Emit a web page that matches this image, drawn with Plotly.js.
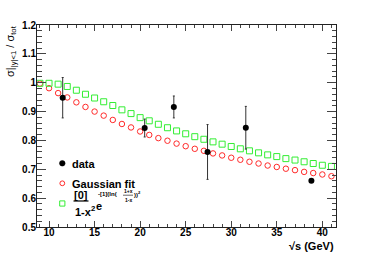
<!DOCTYPE html>
<html>
<head>
<meta charset="utf-8">
<script src="https://cdn.plot.ly/plotly-3.0.1.min.js"></script>
<style>html,body{margin:0;padding:0;background:#fff;}#chart{width:374px;height:253px;}</style>
</head>
<body>
<div id="chart"></div>
<script>
// ---- data ----
const dataX = [11.5, 20.5, 23.7, 27.4, 31.6, 38.8];
const dataY = [0.948, 0.843, 0.916, 0.760, 0.844, 0.660];
const dataErr = [0.070, 0.031, 0.038, 0.095, 0.074, 0.004];

const fitX = [9,10,11,12,13,14,15,16,17,18,19,20,21,22,23,24,25,26,27,28,29,30,31,32,33,34,35,36,37,38,39,40,41];
const gausY = [0.997,0.981,0.964,0.949,0.932,0.916,0.900,0.886,0.871,0.857,0.845,0.831,0.819,0.808,0.799,0.789,0.780,0.771,0.764,0.755,0.748,0.740,0.733,0.726,0.720,0.713,0.708,0.702,0.697,0.691,0.687,0.682,0.676];
const formY = [0.998,0.998,0.995,0.987,0.974,0.960,0.947,0.934,0.921,0.906,0.893,0.879,0.868,0.856,0.844,0.833,0.823,0.813,0.804,0.795,0.787,0.779,0.771,0.764,0.757,0.750,0.744,0.737,0.732,0.726,0.720,0.714,0.710];

const legendNames = ["data", "Gaussian fit"];
const xTitle = "\u221As (GeV)";
const yTitle = "\u03c3|<sub>|y|&lt;1</sub> / \u03c3<sub>tot</sub>";

// ---- geometry helpers (plot area: left 37, right 336, top 25, bottom 227) ----
const L = 37, R = 336, T = 25, B = 227;
const px = x => (x - L) / (R - L);
const py = y => (B - y) / (B - T);

const FONT = "Liberation Sans, Arial, sans-serif";

const traces = [
  {x: fitX, y: gausY, type: "scatter", mode: "markers", name: "Gaussian fit",
   marker: {symbol: "circle-open", size: 5.5, color: "#ff2a2a", line: {width: 1}}, showlegend: false},
  {x: fitX, y: formY, type: "scatter", mode: "markers", name: "formula",
   marker: {symbol: "square-open", size: 6, color: "#33ee33", line: {width: 1}}, showlegend: false},
  {x: dataX, y: dataY, type: "scatter", mode: "markers", name: "data",
   error_y: {type: "data", array: dataErr, visible: true, color: "#333", thickness: 1, width: 1},
   marker: {symbol: "circle", size: 6, color: "#000"}, showlegend: false}
];

const axisCommon = {
  showgrid: false, zeroline: false, showline: true, linecolor: "#222", linewidth: 1,
  mirror: "allticks", ticks: "inside", tickcolor: "#444", tickwidth: 1,
  tickfont: {family: FONT, size: 10, color: "#000", weight: "bold"}
};

const layout = {
  width: 374, height: 253,
  margin: {l: L, r: 374 - R, t: T, b: 253 - B, pad: 0},
  paper_bgcolor: "#fff", plot_bgcolor: "#fff",
  showlegend: false,
  xaxis: Object.assign({}, axisCommon, {
    range: [8.68, 41.5], dtick: 5, tick0: 0, ticklen: 6, ticklabelstandoff: -4,
    minor: {dtick: 1, ticks: "inside", ticklen: 3, tickcolor: "#444"}
  }),
  yaxis: Object.assign({}, axisCommon, {
    range: [0.5, 1.2], dtick: 0.1, tick0: 0, ticklen: 9, ticklabelstandoff: -2,
    minor: {dtick: 0.02, ticks: "inside", ticklen: 4.5, tickcolor: "#444"}
  }),
  annotations: [
    {xref: "paper", yref: "paper", x: px(3), y: py(24), xanchor: "left", yanchor: "top", borderpad: 0,
     text: yTitle, textangle: -90, showarrow: false, font: {family: FONT, size: 11, color: "#000"}},
    {xref: "paper", yref: "paper", x: px(336), y: py(246), xanchor: "right", yanchor: "middle",
     text: xTitle, showarrow: false, font: {family: FONT, size: 11, color: "#000", weight: "bold"}},
    {xref: "paper", yref: "paper", x: px(69.5), y: py(163.5), xanchor: "left", yanchor: "middle",
     text: legendNames[0], showarrow: false, font: {family: FONT, size: 11, color: "#000", weight: "bold"}},
    {xref: "paper", yref: "paper", x: px(69.5), y: py(183.5), xanchor: "left", yanchor: "middle",
     text: legendNames[1], showarrow: false, font: {family: FONT, size: 11, color: "#000", weight: "bold"}},
    {xref: "paper", yref: "paper", x: px(80.8), y: py(195), xanchor: "center", yanchor: "middle",
     text: "[0]", showarrow: false, font: {family: FONT, size: 11, color: "#000", weight: "bold"}},
    {xref: "paper", yref: "paper", x: px(73), y: py(211), xanchor: "left", yanchor: "middle",
     text: "1-x<sup>2</sup>", showarrow: false, font: {family: FONT, size: 11, color: "#000", weight: "bold"}},
    {xref: "paper", yref: "paper", x: px(93.5), y: py(206), xanchor: "left", yanchor: "middle",
     text: "e", showarrow: false, font: {family: FONT, size: 11, color: "#000", weight: "bold"}},
    {xref: "paper", yref: "paper", x: px(96.5), y: py(194), xanchor: "left", yanchor: "middle", borderpad: 0,
     text: "-[1](ln(", showarrow: false, font: {family: FONT, size: 6, color: "#000", weight: "bold"}},
    {xref: "paper", yref: "paper", x: px(128), y: py(190.5), xanchor: "center", yanchor: "middle", borderpad: 0,
     text: "1+x", showarrow: false, font: {family: FONT, size: 5, color: "#000", weight: "bold"}},
    {xref: "paper", yref: "paper", x: px(128), y: py(199.5), xanchor: "center", yanchor: "middle", borderpad: 0,
     text: "1-x", showarrow: false, font: {family: FONT, size: 5, color: "#000", weight: "bold"}},
    {xref: "paper", yref: "paper", x: px(133), y: py(194), xanchor: "left", yanchor: "middle", borderpad: 0,
     text: "))<sup>2</sup>", showarrow: false, font: {family: FONT, size: 6, color: "#000", weight: "bold"}}
  ],
  shapes: [
    // legend icons
    {type: "circle", xref: "paper", yref: "paper", xsizemode: "pixel", ysizemode: "pixel",
     xanchor: px(62.3), yanchor: py(163.3), x0: -2.8, x1: 2.8, y0: -2.8, y1: 2.8,
     fillcolor: "#000", line: {color: "#000", width: 0.5}},
    {type: "circle", xref: "paper", yref: "paper", xsizemode: "pixel", ysizemode: "pixel",
     xanchor: px(62.3), yanchor: py(183.3), x0: -2.4, x1: 2.4, y0: -2.4, y1: 2.4,
     line: {color: "#ff2a2a", width: 1}},
    {type: "rect", xref: "paper", yref: "paper", xsizemode: "pixel", ysizemode: "pixel",
     xanchor: px(62.3), yanchor: py(203.5), x0: -2.6, x1: 2.6, y0: -2.6, y1: 2.6,
     line: {color: "#33ee33", width: 1}},
    // fraction bars
    {type: "line", xref: "paper", yref: "paper", x0: px(73.5), x1: px(88.5), y0: py(201), y1: py(201),
     line: {color: "#000", width: 1.2}},
    {type: "line", xref: "paper", yref: "paper", x0: px(123), x1: px(133), y0: py(195.2), y1: py(195.2),
     line: {color: "#000", width: 0.6}}
  ]
};

Plotly.newPlot("chart", traces, layout, {staticPlot: true, displayModeBar: false});
</script>
</body>
</html>
